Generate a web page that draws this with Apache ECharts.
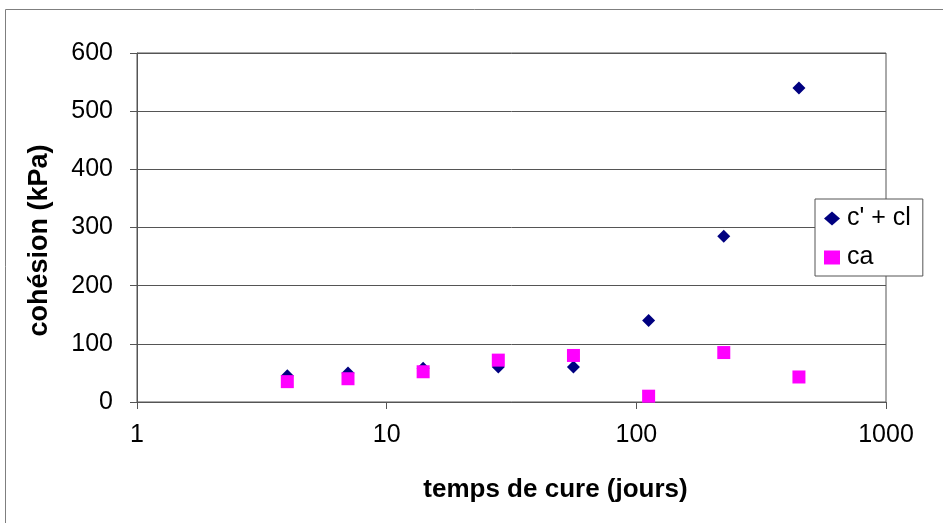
<!DOCTYPE html>
<html>
<head>
<meta charset="utf-8">
<script src="https://cdn.jsdelivr.net/npm/echarts@6/dist/echarts.min.js"></script>
<style>
  html, body { margin: 0; padding: 0; background: #fff; }
  #chart { width: 943px; height: 523px; }
</style>
</head>
<body>
<div id="chart"></div>
<script>
// temps de cure (jours)
const days = [4, 7, 14, 28, 56, 112, 224, 448];
// c' + cl (kPa)
const cohesionTotal = [45, 50, 58, 60, 60, 140, 285, 540];
// ca (kPa)
const cohesionCa = [35, 40, 52, 72, 80, 10, 85, 43];

const xTicks = [1, 10, 100, 1000];
const yTicks = [0, 100, 200, 300, 400, 500, 600];

const font = 'Liberation Sans, Arial, sans-serif';

let chart = echarts.init(document.getElementById('chart'));

const option = {
  animation: false,
  graphic: [
    {
      type: 'rect',
      shape: { x: 5.5, y: 9.5, width: 960, height: 540 },
      style: { fill: 'none', stroke: '#7f7f7f', lineWidth: 1 },
      z: -1
    }
  ],
  grid: {
    left: 137,
    right: 57,
    top: 53,
    bottom: 121,
    show: true,
    borderColor: '#555',
    borderWidth: 1
  },
  legend: {
    orient: 'vertical',
    left: 815,
    top: 199,
    padding: [7, 12, 6, 9],
    itemGap: 14,
    itemWidth: 16,
    itemHeight: 14,
    borderColor: '#555',
    borderWidth: 1,
    backgroundColor: '#fff',
    textStyle: { fontFamily: font, fontSize: 25, lineHeight: 24, color: '#000', padding: [0, 0, 0, 2] },
    data: [
      { name: "c' + cl", icon: 'diamond', itemStyle: { color: '#000080', opacity: 1 } },
      { name: 'ca', icon: 'rect', itemStyle: { color: '#ff00ff', opacity: 1 } }
    ]
  },
  xAxis: {
    type: 'log',
    logBase: 10,
    min: xTicks[0],
    max: xTicks[xTicks.length - 1],
    name: 'temps de cure (jours)',
    nameLocation: 'middle',
    nameGap: 75,
    nameTextStyle: {
      fontFamily: font, fontSize: 26, fontWeight: 'bold', color: '#000',
      padding: [0, 0, 0, 88]
    },
    axisLine: { show: true, lineStyle: { color: '#555', width: 1 } },
    axisTick: { show: true, length: 7, inside: false, lineStyle: { color: '#555' } },
    minorTick: { show: false },
    axisLabel: {
      fontFamily: font, fontSize: 25, color: '#000', margin: 21,
      formatter: function (v) { return String(Math.round(v)); }
    },
    splitLine: { show: false }
  },
  yAxis: {
    type: 'value',
    min: yTicks[0],
    max: yTicks[yTicks.length - 1],
    interval: 100,
    name: 'cohésion (kPa)',
    nameLocation: 'middle',
    nameGap: 84,
    nameRotate: 90,
    nameTextStyle: {
      fontFamily: font, fontSize: 27, fontWeight: 'bold', color: '#000',
      padding: [0, 26, 0, 0]
    },
    axisLine: { show: true, lineStyle: { color: '#555', width: 1 } },
    axisTick: { show: true, length: 7, lineStyle: { color: '#555' } },
    axisLabel: { fontFamily: font, fontSize: 25, color: '#000', margin: 24 },
    splitLine: { show: true, lineStyle: { color: '#555', width: 1 } }
  },
  series: [
    {
      name: "c' + cl",
      type: 'scatter',
      symbol: 'diamond',
      symbolSize: 13,
      itemStyle: { color: '#000080', opacity: 1 },
      data: days.map((d, i) => [d, cohesionTotal[i]]),
      z: 2
    },
    {
      name: 'ca',
      type: 'scatter',
      symbol: 'rect',
      symbolSize: 13,
      itemStyle: { color: '#ff00ff', opacity: 1 },
      data: days.map((d, i) => [d, cohesionCa[i]]),
      z: 3
    }
  ]
};

chart.setOption(option);
window.addEventListener('resize', chart.resize);
</script>
</body>
</html>
